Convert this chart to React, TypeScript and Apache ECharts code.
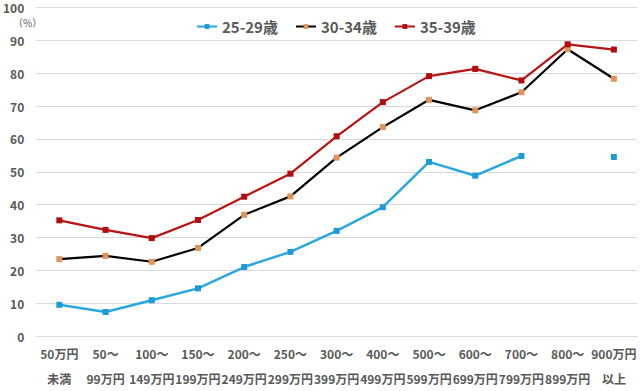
import React, { useEffect, useRef } from "react";
import * as echarts from "echarts";

const catTop = ["50万円", "50～", "100～", "150～", "200～", "250～", "300～", "400～", "500～", "600～", "700～", "800～", "900万円"];
const catBottom = ["未満", "99万円", "149万円", "199万円", "249万円", "299万円", "399万円", "499万円", "599万円", "699万円", "799万円", "899万円", "以上"];
const seriesNames = ["25-29歳", "30-34歳", "35-39歳"];
const age25 = [9.5, 7.3, 10.9, 14.5, 21.0, 25.6, 32.0, 39.2, 53.0, 48.8, 54.8, null, 54.5];
const age30 = [23.4, 24.4, 22.6, 26.8, 36.9, 42.5, 54.3, 63.6, 71.9, 68.7, 74.2, 87.3, 78.3];
const age35 = [35.2, 32.3, 29.8, 35.3, 42.4, 49.4, 60.8, 71.2, 79.1, 81.3, 77.8, 88.8, 87.2];
const yTicks = { min: 0, max: 100, interval: 10 };

const FONT = "'Noto Sans CJK JP', 'Noto Sans', sans-serif";
const TXT = "#595959";

export default function App() {
  const ref = useRef<HTMLDivElement>(null);
  useEffect(() => {
    document.body.style.margin = "0";
    const chart = echarts.init(ref.current!, null, { renderer: "svg" });
    const categories = catTop.map((t, i) => t + "\n" + catBottom[i]);
    const mk = (name: string, data: (number | null)[], line: string, marker: string, width: number) => ({
      name,
      type: "line",
      data,
      symbol: "rect",
      symbolSize: 6,
      showSymbol: true,
      showAllSymbol: true,
      connectNulls: false,
      lineStyle: { color: line, width },
      itemStyle: { color: marker, borderWidth: 0 },
      emphasis: { disabled: true },
    });
    chart.setOption({
      animation: false,
      textStyle: { fontFamily: FONT },
      grid: { left: 32, right: 3, top: 7.5, bottom: 48, containLabel: false },
      legend: {
        top: 14,
        left: 191,
        itemWidth: 20,
        itemHeight: 6,
        itemGap: 17,
        textStyle: { fontSize: 15, fontWeight: "bold", color: TXT, fontFamily: FONT },
        data: seriesNames,
      },
      graphic: [
        {
          type: "text",
          left: 13,
          top: 17,
          style: { text: "（%）", fontSize: 10, fill: TXT, fontFamily: FONT },
        },
      ],
      xAxis: {
        type: "category",
        data: categories,
        boundaryGap: true,
        axisLine: { lineStyle: { color: "#D9D9D9" } },
        axisTick: { show: false },
        axisLabel: {
          interval: 0,
          color: TXT,
          fontSize: 12,
          fontWeight: "bold",
          lineHeight: 25,
          margin: 5,
          fontFamily: FONT,
        },
      },
      yAxis: {
        type: "value",
        min: yTicks.min,
        max: yTicks.max,
        interval: yTicks.interval,
        axisLine: { show: false },
        axisTick: { show: false },
        splitLine: { lineStyle: { color: "#D9D9D9" } },
        axisLabel: { color: TXT, fontSize: 12, fontWeight: "bold", margin: 12, fontFamily: FONT },
      },
      series: [
        mk(seriesNames[0], age25, "#2AA7E0", "#1E9BD7", 2.5),
        mk(seriesNames[1], age30, "#000000", "#E0935A", 2.2),
        mk(seriesNames[2], age35, "#B81414", "#B00C0C", 2.2),
      ],
    });
    return () => chart.dispose();
  }, []);
  return <div ref={ref} style={{ width: 640, height: 391, position: "absolute", left: 0, top: 0 }} />;
}
